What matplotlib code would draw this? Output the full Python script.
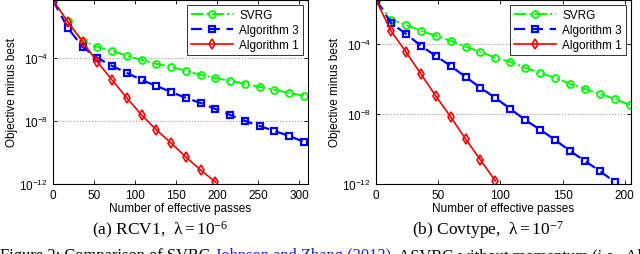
import numpy as np
import matplotlib
matplotlib.use("Agg")
import matplotlib.pyplot as plt
from matplotlib.ticker import FixedLocator, FuncFormatter, NullLocator

plt.rcParams['font.family'] = ['Liberation Sans', 'DejaVu Sans']
plt.rcParams['mathtext.fontset'] = 'custom'
plt.rcParams['mathtext.rm'] = 'Liberation Sans'
plt.rcParams['mathtext.it'] = 'Liberation Sans:italic'
plt.rcParams['mathtext.default'] = 'regular'

# (a) RCV1, lambda = 1e-6 : passes every 18, values as log10(objective - best)
rcv1_x = np.arange(0, 307, 18)
rcv1_svrg = [-0.35, -1.68, -2.92, -3.30, -3.56, -3.87, -4.13, -4.38, -4.57, -4.83,
             -5.08, -5.27, -5.46, -5.65, -5.84, -6.03, -6.22, -6.41]
rcv1_alg3 = [-0.35, -2.10, -3.30, -4.00, -4.51, -4.95, -5.40, -5.78, -6.16, -6.54,
             -6.86, -7.24, -7.62, -8.00, -8.32, -8.64, -8.95, -9.33]
rcv1_alg1 = [-0.35, -1.71, -2.98, -4.25, -5.40, -6.54, -7.62, -8.57, -9.40, -10.29,
             -11.11, -11.87]

# (b) Covtype, lambda = 1e-7 : passes every 12
cov_x = np.arange(0, 205, 12)
cov_svrg = [-1.50, -2.63, -2.91, -3.26, -3.54, -3.83, -4.17, -4.46, -4.80, -5.03,
            -5.37, -5.66, -5.94, -6.29, -6.57, -6.86, -7.14, -7.49]
cov_alg3 = [-1.50, -2.80, -3.43, -4.11, -4.69, -5.26, -5.89, -6.51, -7.09, -7.71,
            -8.35, -8.90, -9.49, -10.11, -10.69, -11.26, -11.89]
cov_alg1 = [-1.50, -3.26, -4.46, -5.71, -6.97, -8.17, -9.43, -10.63, -11.83]

caption_parts = [("Figure 2: Comparison of SVRG ", 'k'),
                 ("Johnson and Zhang (2013)", (0.1, 0.1, 0.9)),
                 (", ASVRG without momentum (i.e., Al", 'k')]

panels = [
    dict(x=rcv1_x, svrg=rcv1_svrg, alg3=rcv1_alg3, alg1=rcv1_alg1,
         xlim=(0, 311), ytop=-0.33, xticks=[0, 50, 100, 150, 200, 250, 300],
         pos=[53 / 640, 70 / 255, 255 / 640, 184 / 255],
         cap_x=160 / 640, cap=r"$(a)$ RCV1,  $\lambda = 10^{-6}$"),
    dict(x=cov_x, svrg=cov_svrg, alg3=cov_alg3, alg1=cov_alg1,
         xlim=(0, 205), ytop=-1.5, xticks=[0, 50, 100, 150, 200],
         pos=[376 / 640, 70 / 255, 255 / 640, 184 / 255],
         cap_x=488 / 640, cap=r"$(b)$ Covtype,  $\lambda = 10^{-7}$"),
]

fig = plt.figure(figsize=(6.4, 2.55), dpi=100)

for p in panels:
    ax = fig.add_axes(p['pos'])
    x = p['x']
    ax.plot(x[:len(p['svrg'])], 10.0 ** np.array(p['svrg']), '-.', color=(0, 1, 0), lw=1.4,
            marker='o', ms=5, mfc='none', mew=1.3, label='SVRG')
    ax.plot(x[:len(p['alg3'])], 10.0 ** np.array(p['alg3']), '--', color=(0, 0, 1), lw=1.6,
            marker='s', ms=4.5, mfc='none', mew=1.6, label='Algorithm 3', dashes=(5, 3))
    ax.plot(x[:len(p['alg1'])], 10.0 ** np.array(p['alg1']), '-', color=(1, 0, 0), lw=1.2,
            marker='d', ms=5, mfc='none', mew=1.2, label='Algorithm 1')
    ax.set_yscale('log')
    ax.set_xlim(*p['xlim'])
    ax.set_ylim(1e-12, 10 ** p['ytop'])
    ax.set_xticks(p['xticks'])
    ax.yaxis.set_major_locator(FixedLocator([1e-12, 1e-8, 1e-4]))
    ax.yaxis.set_minor_locator(NullLocator())
    ax.yaxis.set_major_formatter(FuncFormatter(lambda v, _: r"$10^{%d}$" % round(np.log10(v))))
    ax.tick_params(direction='in', top=True, right=True, labelsize=8.5, length=3, width=0.6)
    ax.grid(axis='y', linestyle=':', color='0.6', lw=0.8)
    for s in ax.spines.values():
        s.set_linewidth(0.8)
    ax.set_xlabel('Number of effective passes', fontsize=8.5, labelpad=1)
    ax.set_ylabel('Objective minus best', fontsize=8.5, labelpad=1)
    leg = ax.legend(loc='upper right', fontsize=8.5, fancybox=False, edgecolor='k',
                    handlelength=3.6, borderaxespad=0.4, labelspacing=0.25,
                    borderpad=0.35, handletextpad=0.5)
    leg.get_frame().set_linewidth(0.7)
    fig.text(p['cap_x'], 25 / 255, p['cap'], ha='center', va='center', fontsize=12.5,
             family='Liberation Serif', math_fontfamily='stix')

# figure caption, cut at the bottom of the image like in the source
renderer = fig.canvas.get_renderer()
xpos = 0.0
for txt, col in caption_parts:
    t = fig.text(xpos, 7 / 255, txt, va='top', ha='left', fontsize=11.9,
                 family='Liberation Serif', color=col)
    bb = t.get_window_extent(renderer)
    xpos = bb.x1 / (fig.get_figwidth() * fig.dpi)

fig.savefig('out.png', dpi=100)
